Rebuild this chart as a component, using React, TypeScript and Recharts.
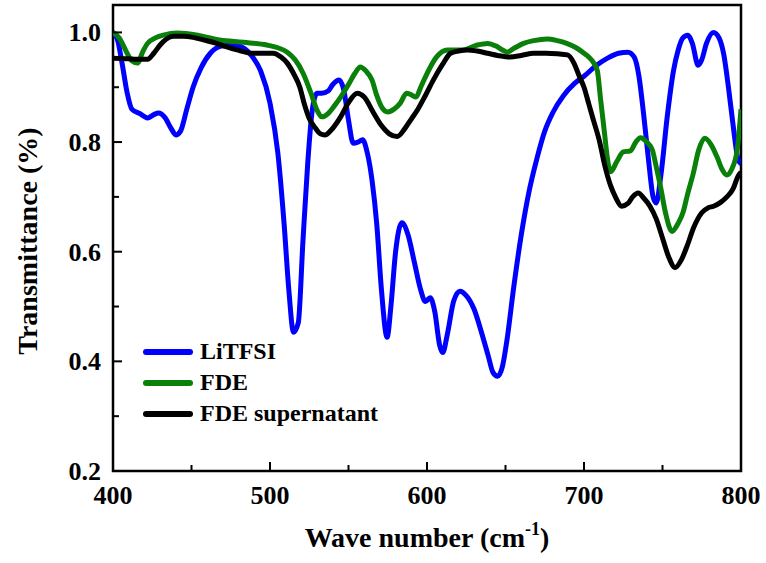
import React from "react";
import { Legend, Line, LineChart, ReferenceArea, XAxis, YAxis } from "recharts";

// LiTFSI
const litfsiX = [400, 403, 406, 409, 412, 417, 422, 426, 429, 433, 437, 440, 443, 447, 451, 456, 462, 469, 477, 484, 489, 494, 500, 505, 509, 512, 515, 518, 521, 524, 527, 530, 533, 537, 540, 544, 547, 550, 553, 556, 559, 562, 565, 568, 571, 574.6, 577, 580, 584, 588, 592, 596, 599, 602, 605, 608, 610, 613, 617, 621, 625, 630, 635, 639, 642, 645, 648, 651, 655, 660, 665, 670, 675, 680, 687, 694, 700, 708, 715, 722, 728, 732, 735, 738, 741, 744, 746, 749, 753, 757, 760, 763, 766, 769, 772.7, 775, 778, 782.5, 786, 789, 792, 795, 798, 800];
const litfsiT = [1.0, 0.985, 0.94, 0.89, 0.86, 0.852, 0.844, 0.85, 0.853, 0.845, 0.825, 0.813, 0.82, 0.86, 0.9, 0.935, 0.962, 0.975, 0.977, 0.97, 0.955, 0.93, 0.871, 0.78, 0.65, 0.53, 0.453, 0.47, 0.62, 0.76, 0.86, 0.889, 0.889, 0.893, 0.905, 0.913, 0.895, 0.84, 0.798, 0.8, 0.804, 0.78, 0.73, 0.65, 0.53, 0.444, 0.5, 0.6, 0.653, 0.63, 0.58, 0.53, 0.509, 0.516, 0.49, 0.43, 0.416, 0.45, 0.51, 0.528, 0.52, 0.495, 0.45, 0.41, 0.38, 0.373, 0.39, 0.44, 0.53, 0.63, 0.71, 0.77, 0.82, 0.853, 0.885, 0.907, 0.92, 0.94, 0.953, 0.962, 0.964, 0.955, 0.92, 0.85, 0.77, 0.7, 0.689, 0.74, 0.846, 0.93, 0.968, 0.99, 0.995, 0.98, 0.94, 0.95, 0.98, 1.0, 0.99, 0.96, 0.9, 0.83, 0.77, 0.76];

// FDE
const fdeX = [400, 404, 409, 412, 415.5, 419, 422, 427, 432, 441, 454, 468, 483, 498, 505, 511, 516, 521, 526, 530, 533, 537, 541, 545, 550, 554, 557.5, 561, 565, 568, 571.5, 575, 579, 583, 587, 590, 593, 596, 600, 606, 613, 623, 632, 638.5, 644, 648, 651, 656, 661.5, 668, 676.5, 683, 689, 695, 700, 703, 706, 708.5, 710.5, 712.6, 715.8, 717, 721, 725, 729.5, 733, 736, 740, 743.5, 746, 748.7, 752, 756, 760, 763, 766, 769.7, 773, 777, 781, 784.7, 788, 791, 794, 797.6, 800];
const fdeT = [1.0, 0.99, 0.962, 0.948, 0.944, 0.965, 0.98, 0.99, 0.995, 0.999, 0.995, 0.986, 0.982, 0.977, 0.972, 0.964, 0.95, 0.926, 0.89, 0.858, 0.846, 0.852, 0.866, 0.882, 0.905, 0.925, 0.937, 0.93, 0.913, 0.885, 0.862, 0.855, 0.86, 0.871, 0.889, 0.886, 0.882, 0.9, 0.925, 0.955, 0.968, 0.968, 0.977, 0.98, 0.975, 0.968, 0.964, 0.972, 0.98, 0.985, 0.988, 0.985, 0.98, 0.972, 0.962, 0.955, 0.945, 0.93, 0.88, 0.828, 0.755, 0.746, 0.765, 0.782, 0.784, 0.8, 0.808, 0.8, 0.786, 0.755, 0.719, 0.67, 0.637, 0.652, 0.671, 0.705, 0.744, 0.785, 0.807, 0.795, 0.773, 0.75, 0.74, 0.75, 0.786, 0.86];

// FDE supernatant
const superX = [400, 410, 415, 422, 426, 430, 434, 438.5, 445, 451, 458, 466, 472, 479, 489.5, 502, 507, 511, 515, 519, 522, 525, 529, 532, 535, 539, 545, 550, 555.6, 560, 566, 571, 576, 581, 586, 590, 594, 599, 604, 610, 615, 620, 625.5, 632, 638.5, 645, 653, 660, 668, 676, 683, 689.5, 693.6, 697, 700, 703, 706, 710, 713, 717, 720, 724, 728, 731, 734.5, 738, 742, 746, 750, 754, 758, 762, 765.6, 770, 775, 779, 782.5, 787, 791, 795, 798, 800];
const superT = [0.953, 0.952, 0.951, 0.951, 0.962, 0.977, 0.988, 0.993, 0.993, 0.991, 0.986, 0.98, 0.974, 0.968, 0.962, 0.962, 0.955, 0.944, 0.925, 0.9, 0.868, 0.843, 0.825, 0.815, 0.813, 0.822, 0.846, 0.872, 0.889, 0.882, 0.853, 0.83, 0.815, 0.81, 0.825, 0.842, 0.859, 0.885, 0.913, 0.942, 0.962, 0.966, 0.968, 0.966, 0.962, 0.958, 0.955, 0.958, 0.962, 0.962, 0.961, 0.959, 0.944, 0.92, 0.9, 0.87, 0.84, 0.8, 0.76, 0.72, 0.7, 0.683, 0.688, 0.7, 0.707, 0.698, 0.683, 0.66, 0.625, 0.59, 0.571, 0.585, 0.61, 0.645, 0.671, 0.68, 0.683, 0.69, 0.7, 0.715, 0.737, 0.745];

const xTicks = [400, 450, 500, 550, 600, 650, 700, 750, 800];
const yTicks = [0.2, 0.3, 0.4, 0.5, 0.6, 0.7, 0.8, 0.9, 1.0];

const seriesNames = ["LiTFSI", "FDE", "FDE supernatant"];
const seriesColors = ["#0000ff", "#0a800a", "#000000"];

const FONT = "'Liberation Serif', 'Times New Roman', serif";

const toPoints = (xs: number[], ts: number[]) => xs.map((x, i) => ({ x, t: ts[i] }));

const XTick = (props: any) => {
  const { x, y, payload } = props;
  const v = payload.value;
  const major = v % 100 === 0;
  return (
    <g>
      <line x1={x} x2={x} y1={y} y2={y - (major ? 9 : 6)} stroke="#000" strokeWidth={2} />
      {major && (
        <text x={x} y={y + 33} textAnchor="middle" fontFamily={FONT} fontWeight="bold" fontSize={26} fill="#000">
          {v}
        </text>
      )}
    </g>
  );
};

const YTick = (props: any) => {
  const { x, y, payload } = props;
  const v = payload.value;
  const major = Math.round(v * 10) % 2 === 0;
  return (
    <g>
      <line x1={x} x2={x + (major ? 9 : 6)} y1={y} y2={y} stroke="#000" strokeWidth={2} />
      {major && (
        <text x={x - 12} y={y + 9} textAnchor="end" fontFamily={FONT} fontWeight="bold" fontSize={26} fill="#000">
          {v.toFixed(1)}
        </text>
      )}
    </g>
  );
};

const XTitle = (props: any) => {
  const vb = props.viewBox;
  return (
    <text x={vb.x + vb.width / 2} y={vb.y + 76} textAnchor="middle" fontFamily={FONT} fontWeight="bold" fontSize={28} fill="#000">
      Wave number (cm
      <tspan fontSize={18} dy={-12}>-1</tspan>
      <tspan dy={12}>)</tspan>
    </text>
  );
};

const renderLegend = () => (
  <div style={{ fontFamily: FONT, fontWeight: "bold", fontSize: 24, color: "#000" }}>
    {seriesNames.map((name, i) => (
      <div key={name} style={{ display: "flex", alignItems: "center", height: 31 }}>
        <div style={{ width: 50, height: 6, borderRadius: 3, background: seriesColors[i], marginRight: 7 }} />
        <span>{name}</span>
      </div>
    ))}
  </div>
);

const App: React.FC = () => {
  const series = [toPoints(litfsiX, litfsiT), toPoints(fdeX, fdeT), toPoints(superX, superT)];
  return (
    <div style={{ position: "absolute", left: 0, top: 0 }}>
      <LineChart width={766} height={563} margin={{ top: 5, right: 25, bottom: 0, left: 0 }}>
        <XAxis
          dataKey="x"
          type="number"
          domain={[400, 800]}
          ticks={xTicks}
          allowDataOverflow
          height={92}
          axisLine={false}
          tickLine={false}
          tickSize={0}
          tickMargin={0}
          tick={<XTick />}
          label={{ content: <XTitle /> }}
        />
        <YAxis
          type="number"
          domain={[0.2, 1.05]}
          ticks={yTicks}
          allowDataOverflow
          width={113}
          axisLine={false}
          tickLine={false}
          tickSize={0}
          tickMargin={0}
          tick={<YTick />}
          label={{
            value: "Transmittance (%)",
            angle: -90,
            position: "center",
            dx: -29,
            dy: 3,
            style: { fontFamily: FONT, fontWeight: "bold", fontSize: 28, fill: "#000" },
          }}
        />
        <ReferenceArea x1={400} x2={800} y1={0.2} y2={1.05} fill="none" stroke="#000" strokeWidth={2.5} />
        {series.map((d, i) => (
          <Line
            key={seriesNames[i]}
            data={d}
            dataKey="t"
            name={seriesNames[i]}
            type="monotone"
            stroke={seriesColors[i]}
            strokeWidth={5}
            dot={false}
            isAnimationActive={false}
          />
        ))}
        <Legend
          layout="vertical"
          align="center"
          verticalAlign="middle"
          content={renderLegend}
          wrapperStyle={{ left: 143, top: 336, width: "auto" }}
        />
      </LineChart>
    </div>
  );
};

export default App;
